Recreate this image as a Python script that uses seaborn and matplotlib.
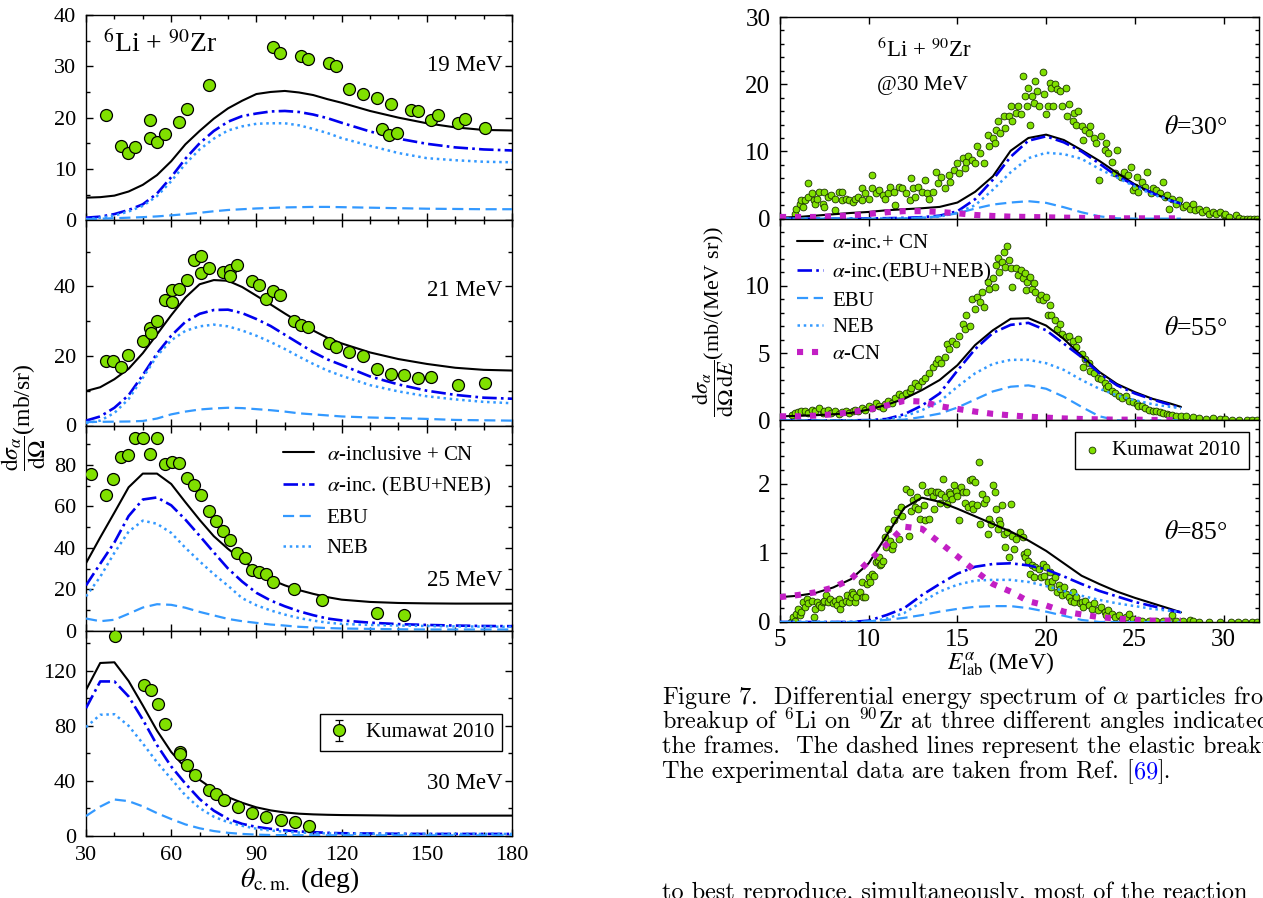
import matplotlib
matplotlib.use("Agg")
import matplotlib.pyplot as plt
import seaborn as sns
from matplotlib.ticker import MultipleLocator, FixedLocator

# ---------------- data: left panel, angular distributions ----------------
theta = [30, 35, 40, 45, 50, 55, 60, 65, 70, 75, 80, 85, 90, 95, 100,
         105, 110, 115, 120, 130, 140, 150, 160, 170, 180]

tot19 = [4.4, 4.5, 4.8, 5.6, 6.9, 8.8, 11.5, 14.8, 17.4, 19.8, 21.8, 23.3, 24.6, 25.0, 25.2,
         24.9, 24.4, 23.6, 22.9, 21.3, 20.0, 18.9, 18.1, 17.6, 17.5]
inc19 = [0.5, 0.7, 1.2, 2.0, 3.1, 5.2, 8.4, 12.0, 15.0, 17.4, 19.2, 20.3, 20.8, 21.2, 21.3,
         21.1, 20.6, 19.9, 19.0, 17.3, 15.9, 14.9, 14.2, 13.8, 13.6]
neb19 = [0.2, 0.5, 0.9, 1.7, 2.8, 4.7, 7.6, 11.0, 13.8, 15.9, 17.5, 18.3, 18.8, 18.9, 18.9,
         18.5, 17.8, 17.0, 16.0, 14.5, 13.1, 12.1, 11.7, 11.4, 11.3]
ebu19 = [0.2, 0.3, 0.4, 0.5, 0.6, 0.75, 0.95, 1.2, 1.45, 1.75, 2.0, 2.15, 2.3, 2.4, 2.5,
         2.55, 2.6, 2.6, 2.55, 2.45, 2.35, 2.25, 2.2, 2.15, 2.15]

tot21 = [9.9, 11.0, 13.3, 16.3, 20.8, 26.2, 31.7, 36.8, 40.6, 41.8, 41.6, 39.8, 37.3, 34.8, 32.2,
         29.7, 27.3, 25.2, 23.6, 21.0, 19.1, 17.7, 16.6, 16.0, 15.8]
inc21 = [1.4, 2.6, 5.1, 8.7, 14.5, 20.7, 25.8, 29.8, 32.1, 33.2, 33.3, 32.3, 30.6, 28.6, 26.1,
         23.6, 21.1, 19.0, 17.4, 14.1, 11.8, 10.0, 8.8, 8.0, 7.7]
neb21 = [0.7, 1.4, 3.6, 7.6, 13.7, 20.0, 24.5, 27.2, 28.5, 29.0, 28.5, 27.3, 25.8, 24.0, 22.0,
         19.8, 17.7, 15.8, 14.3, 11.6, 9.8, 8.4, 7.5, 6.8, 6.4]
ebu21 = [1.0, 1.05, 1.1, 1.15, 1.3, 2.0, 3.2, 4.0, 4.6, 4.9, 5.1, 5.0, 4.7, 4.4, 4.0,
         3.5, 3.2, 2.9, 2.6, 2.3, 2.1, 1.9, 1.6, 1.5, 1.4]

tot25 = [32.6, 45.0, 57.0, 69.2, 75.8, 75.8, 70.8, 62.0, 53.5, 45.6, 39.5, 34.0, 29.0, 24.7, 21.9,
         19.6, 17.8, 16.2, 15.0, 13.9, 13.4, 13.2, 13.1, 13.1, 13.1]
inc25 = [21.9, 32.3, 42.6, 55.3, 63.3, 64.3, 60.5, 53.6, 45.8, 37.8, 30.0, 23.7, 18.3, 14.6, 11.8,
         9.4, 7.5, 5.9, 5.0, 3.9, 3.2, 2.8, 2.5, 2.3, 2.2]
neb25 = [16.6, 26.0, 37.6, 47.8, 53.1, 51.6, 47.2, 40.0, 33.5, 27.3, 21.7, 15.7, 12.3, 9.8, 7.8,
         6.1, 4.9, 3.9, 3.3, 2.8, 2.5, 2.3, 2.1, 2.0, 1.9]
ebu25 = [5.9, 4.6, 5.3, 8.2, 11.2, 12.8, 12.5, 11.1, 9.1, 7.4, 5.7, 4.6, 3.8, 3.0, 2.5,
         1.9, 1.6, 1.3, 1.1, 0.9, 0.7, 0.6, 0.6, 0.6, 0.6]

tot30 = [106.0, 125.6, 126.1, 112.5, 94.8, 76.5, 61.0, 49.5, 40.8, 33.6, 28.2, 24.1, 20.8, 18.6, 17.1,
         16.2, 15.7, 15.4, 15.2, 15.0, 14.8, 14.8, 14.8, 14.8, 14.8]
inc30 = [92.8, 112.2, 112.2, 101.3, 84.5, 66.0, 50.5, 38.0, 26.8, 18.4, 12.4, 8.8, 6.6, 5.2, 4.1,
         3.3, 2.8, 2.3, 2.0, 1.8, 1.6, 1.5, 1.5, 1.5, 1.5]
neb30 = [79.0, 88.0, 88.4, 80.0, 67.2, 53.5, 41.5, 29.5, 20.3, 14.0, 10.0, 7.4, 5.3, 4.0, 3.1,
         2.5, 2.1, 1.9, 1.7, 1.6, 1.5, 1.5, 1.5, 1.5, 1.5]
ebu30 = [14.5, 21.3, 26.5, 25.3, 21.5, 16.6, 12.3, 8.4, 5.6, 3.6, 2.3, 1.5, 1.0, 0.7, 0.6,
         0.55, 0.5, 0.5, 0.5, 0.5, 0.5, 0.5, 0.5, 0.5, 0.5]

# Kumawat 2010 angular data (theta_cm, mb/sr)
kum19 = [(37.0, 20.6), (42.2, 14.4), (44.8, 13.2), (47.4, 14.2), (52.5, 19.6), (52.5, 16.0),
         (55.1, 15.3), (57.7, 16.8), (62.9, 19.1), (65.6, 21.7), (73.3, 26.3), (95.8, 33.7),
         (98.3, 32.5), (105.7, 32.0), (108.3, 31.5), (115.6, 30.7), (118.0, 30.1), (122.7, 25.6),
         (127.7, 24.7), (132.6, 23.9), (137.4, 22.6), (134.2, 17.7), (136.6, 16.6), (139.4, 17.1),
         (144.4, 21.5), (146.9, 21.3), (151.6, 19.6), (154.0, 20.6), (161.1, 18.9), (163.6, 19.8),
         (170.5, 17.9)]
kum21 = [(37.0, 18.6), (39.6, 18.5), (42.2, 16.7), (44.8, 20.4), (50.0, 24.4), (52.5, 28.0),
         (52.8, 26.5), (55.1, 30.0), (57.7, 36.1), (60.3, 38.9), (60.3, 35.4), (62.9, 39.2),
         (65.6, 41.9), (68.1, 47.6), (70.6, 48.7), (70.6, 43.8), (73.3, 45.3), (78.1, 44.0),
         (80.7, 44.7), (80.7, 43.1), (83.3, 46.2), (88.5, 41.6), (90.9, 40.3), (93.4, 36.3),
         (95.8, 38.6), (98.3, 37.6), (103.2, 30.0), (105.8, 29.0), (108.3, 28.2), (115.6, 23.7),
         (118.0, 22.7), (122.7, 21.1), (127.7, 20.0), (132.6, 16.3), (137.4, 14.8), (142.1, 14.6),
         (146.8, 13.7), (151.6, 13.9), (161.1, 11.7), (170.5, 12.2)]
kum25 = [(31.6, 75.8), (37.0, 65.6), (39.6, 73.1), (42.2, 83.8), (44.8, 84.6), (47.4, 92.8),
         (50.0, 92.8), (52.5, 85.1), (55.1, 92.8), (57.7, 80.6), (60.3, 81.6), (62.9, 81.1),
         (65.6, 73.6), (68.1, 70.2), (70.6, 65.6), (73.3, 57.9), (75.8, 52.8), (78.4, 48.3),
         (80.7, 43.8), (83.3, 37.4), (85.9, 35.2), (88.5, 29.4), (90.9, 28.3), (93.4, 27.5),
         (95.8, 23.5), (103.2, 20.0), (113.1, 15.0), (132.6, 8.6), (142.1, 7.5)]
kum30 = [(40.2, 145.5), (50.5, 109.8), (52.8, 106.2), (55.4, 95.5), (57.9, 81.0), (63.1, 61.1),
         (63.1, 59.6), (65.7, 51.9), (68.3, 44.1), (73.3, 33.2), (75.9, 30.5), (78.5, 26.2),
         (83.4, 20.8), (88.6, 16.5), (93.5, 13.6), (98.5, 11.6), (103.5, 10.2), (108.4, 7.3)]

# ---------------- data: right panel, energy spectra at 30 MeV ----------------
e_lab = [5, 6, 7, 8, 9, 10, 11, 12, 13, 14, 15, 16, 17, 18, 19, 20, 21, 22, 23, 24, 25, 26, 27, 27.6]

tot_a30 = [0.15, 0.25, 0.45, 0.65, 0.85, 1.0, 1.25, 1.4, 1.55, 1.75, 2.4, 4.0, 6.3, 10.1, 12.0, 12.5,
           11.7, 10.2, 8.6, 6.8, 5.1, 3.8, 2.8, 2.25]
inc_a30 = [0, 0, 0, 0, 0.02, 0.04, 0.07, 0.12, 0.22, 0.45, 1.1, 2.9, 5.8, 9.2, 11.6, 12.25,
           11.35, 10.0, 8.2, 6.3, 5.0, 3.8, 2.7, 2.25]
neb_a30 = [0, 0, 0, 0, 0, 0, 0, 0, 0.12, 0.3, 0.9, 2.0, 4.3, 6.9, 9.0, 9.8,
           9.6, 8.9, 7.4, 6.1, 4.8, 3.6, 2.7, 2.25]
ebu_a30 = [0, 0, 0, 0, 0, 0, 0, 0.05, 0.15, 0.35, 0.8, 1.5, 2.1, 2.4, 2.6, 2.35,
           1.7, 0.95, 0.35, 0.05, 0, 0, 0, 0]
cn_a30 = [0.25, 0.25, 0.25, 0.35, 0.5, 0.7, 0.95, 1.12, 1.12, 1.0, 0.8, 0.55, 0.4, 0.3, 0.25, 0.2,
          0.15, 0.12, 0.1, 0.05, 0.05, 0.05, 0.05, 0.05]

tot_a55 = [0.3, 0.33, 0.38, 0.45, 0.55, 0.8, 1.15, 1.6, 2.25, 3.0, 4.1, 5.6, 6.7, 7.55, 7.6, 7.05,
           6.05, 4.8, 3.6, 2.7, 2.1, 1.6, 1.25, 1.0]
inc_a55 = [0, 0, 0, 0, 0, 0.02, 0.1, 0.45, 1.1, 2.0, 3.7, 5.3, 6.5, 7.1, 7.25, 6.7,
           5.7, 4.7, 3.5, 2.6, 2.0, 1.55, 1.15, 0.9]
neb_a55 = [0, 0, 0, 0, 0, 0, 0.05, 0.3, 0.75, 1.4, 2.5, 3.5, 4.2, 4.5, 4.5, 4.25,
           3.75, 3.0, 2.35, 1.85, 1.5, 1.2, 1.0, 0.9]
ebu_a55 = [0, 0, 0, 0, 0, 0, 0, 0.05, 0.25, 0.5, 0.95, 1.55, 2.15, 2.5, 2.6, 2.35,
           1.75, 1.0, 0.3, 0, 0, 0, 0, 0]
cn_a55 = [0.3, 0.3, 0.35, 0.45, 0.6, 0.8, 1.1, 1.45, 1.4, 1.05, 0.85, 0.65, 0.48, 0.37, 0.27, 0.2,
          0.14, 0.1, 0.07, 0.05, 0.05, 0.03, 0.03, 0.03]

tot_a85 = [0.36, 0.38, 0.42, 0.5, 0.62, 0.85, 1.25, 1.65, 1.8, 1.74, 1.64, 1.53, 1.42, 1.31, 1.18, 1.03,
           0.85, 0.67, 0.55, 0.44, 0.35, 0.27, 0.19, 0.14]
inc_a85 = [0, 0, 0, 0, 0, 0.02, 0.1, 0.2, 0.39, 0.55, 0.7, 0.8, 0.84, 0.85, 0.82, 0.76,
           0.66, 0.55, 0.45, 0.37, 0.29, 0.23, 0.17, 0.14]
neb_a85 = [0, 0, 0, 0, 0, 0, 0.05, 0.13, 0.29, 0.44, 0.54, 0.6, 0.61, 0.61, 0.58, 0.52,
           0.45, 0.38, 0.32, 0.27, 0.23, 0.19, 0.16, 0.14]
ebu_a85 = [0, 0, 0, 0, 0, 0.01, 0.03, 0.06, 0.1, 0.15, 0.19, 0.22, 0.23, 0.23, 0.2, 0.15,
           0.09, 0.03, 0, 0, 0, 0, 0, 0]
cn_a85 = [0.36, 0.39, 0.43, 0.5, 0.62, 0.88, 1.12, 1.38, 1.35, 1.15, 0.95, 0.74, 0.55, 0.44, 0.3, 0.24,
          0.15, 0.11, 0.07, 0.05, 0.03, 0.02, 0.02, 0.02]

# Kumawat 2010 energy spectra (E_lab MeV, mb/(MeV sr))
spec30 = [(5.85, 0.75), (5.9, 1.5), (6.1, 2.25), (6.2, 2.75), (6.3, 1.75), (6.4, 2.75), (6.6, 5.25),
          (6.6, 3.25), (6.8, 3.75), (6.9, 2.75), (7.0, 2.25), (7.1, 3.0), (7.2, 4.0), (7.4, 2.25),
          (7.5, 4.0), (7.5, 1.75), (7.7, 3.25), (7.9, 3.5), (8.1, 3.0), (8.1, 1.25), (8.3, 4.0),
          (8.5, 4.0), (8.5, 2.75), (8.7, 3.0), (8.9, 2.75), (9.1, 2.5), (9.2, 3.0), (9.4, 3.25),
          (9.6, 4.5), (9.6, 2.75), (9.8, 3.75), (10.0, 3.0), (10.2, 6.5), (10.2, 4.5), (10.4, 3.75),
          (10.6, 4.25), (10.8, 3.5), (10.9, 3.0), (11.1, 3.75), (11.2, 4.75), (11.4, 4.0), (11.5, 2.0),
          (11.7, 4.75), (11.9, 4.5), (12.1, 3.75), (12.3, 2.75), (12.4, 6.0), (12.5, 4.5), (12.6, 3.25),
          (12.8, 4.75), (13.0, 4.0), (13.2, 5.75), (13.3, 3.75), (13.4, 3.0), (13.6, 4.0), (13.8, 7.0),
          (13.9, 5.25), (14.1, 6.25), (14.3, 4.5), (14.5, 6.5), (14.6, 5.5), (14.8, 7.25), (15.0, 8.25),
          (15.1, 6.75), (15.3, 9.0), (15.4, 7.5), (15.5, 8.5), (15.6, 9.25), (15.8, 8.75), (16.0, 8.25),
          (16.1, 10.75), (16.3, 9.75), (16.5, 8.25), (16.7, 12.5), (16.8, 10.75), (17.0, 12.0),
          (17.1, 11.25), (17.2, 13.25), (17.3, 14.5), (17.4, 12.75), (17.6, 15.25), (17.7, 13.5),
          (17.9, 15.25), (18.0, 16.75), (18.1, 14.5), (18.3, 15.75), (18.4, 16.75), (18.6, 15.5),
          (18.7, 21.25), (18.8, 18.25), (18.9, 16.75), (19.0, 19.5), (19.1, 14.0), (19.2, 18.25),
          (19.3, 17.25), (19.4, 20.5), (19.5, 19.0), (19.6, 16.75), (19.8, 21.75), (19.9, 18.5),
          (20.0, 15.5), (20.1, 16.75), (20.2, 20.25), (20.3, 19.5), (20.4, 16.75), (20.5, 20.0),
          (20.6, 19.25), (20.8, 19.0), (20.9, 16.75), (21.1, 19.5), (21.2, 15.25), (21.3, 17.0),
          (21.5, 14.5), (21.6, 15.75), (21.7, 14.0), (21.8, 16.0), (22.0, 13.75), (22.1, 11.75),
          (22.2, 13.25), (22.4, 12.75), (22.5, 13.75), (22.7, 12.0), (22.8, 11.25), (23.0, 5.75),
          (23.1, 12.25), (23.3, 10.25), (23.4, 11.25), (23.5, 9.75), (23.7, 8.5), (23.9, 6.75),
          (24.0, 10.25), (24.2, 6.25), (24.4, 7.0), (24.6, 6.5), (24.8, 7.75), (24.9, 4.25),
          (25.0, 4.75), (25.1, 6.25), (25.2, 4.0), (25.4, 5.5), (25.6, 4.75), (25.7, 7.0), (25.9, 3.75),
          (26.0, 4.5), (26.2, 4.25), (26.4, 3.75), (26.6, 5.5), (26.7, 3.25), (26.8, 3.5), (26.9, 1.5),
          (27.1, 3.0), (27.3, 2.25), (27.5, 2.75), (27.7, 1.75), (27.9, 2.0), (28.1, 1.5), (28.3, 2.25),
          (28.4, 1.25), (28.6, 1.5), (28.8, 1.0), (29.0, 1.25), (29.2, 0.75), (29.4, 1.0), (29.6, 0.75),
          (29.8, 1.0), (30.0, 0.5), (30.1, 0.75), (30.3, 0.25), (30.7, 0.5), (30.9, 0.15), (31.1, 0.0),
          (31.3, 0.0), (31.5, 0.0), (31.7, 0.0), (31.9, 0.0)]
spec55 = [(5.66, 0.43), (5.85, 0.55), (6.0, 0.6), (6.2, 0.68), (6.4, 0.73), (6.6, 0.55), (6.8, 0.75),
          (7.0, 0.68), (7.2, 0.93), (7.4, 0.55), (7.5, 0.68), (7.7, 0.8), (7.9, 0.55), (8.1, 0.68),
          (8.3, 0.5), (8.5, 0.6), (8.7, 0.73), (8.9, 0.55), (9.1, 0.68), (9.2, 0.8), (9.4, 0.68),
          (9.6, 0.93), (9.8, 0.8), (10.0, 1.05), (10.2, 0.93), (10.4, 1.3), (10.6, 1.1), (10.8, 0.93),
          (10.9, 1.25), (11.1, 1.43), (11.3, 1.3), (11.5, 1.68), (11.7, 1.93), (11.9, 1.8), (12.1, 2.05),
          (12.3, 2.18), (12.4, 2.43), (12.6, 2.8), (12.8, 2.55), (13.0, 2.93), (13.2, 3.18), (13.4, 3.55),
          (13.6, 3.93), (13.8, 4.3), (13.9, 4.55), (14.1, 4.3), (14.3, 4.68), (14.4, 5.68), (14.5, 5.3),
          (14.7, 5.93), (14.9, 5.68), (15.1, 6.3), (15.3, 7.18), (15.4, 6.8), (15.5, 7.8), (15.7, 7.05),
          (15.8, 9.05), (16.0, 8.3), (16.1, 9.18), (16.3, 8.8), (16.4, 9.55), (16.5, 8.43), (16.7, 10.3),
          (16.8, 9.8), (17.0, 10.55), (17.1, 9.93), (17.2, 11.55), (17.3, 12.05), (17.35, 11.05),
          (17.5, 11.8), (17.6, 12.55), (17.7, 11.43), (17.8, 12.93), (17.9, 11.93), (18.0, 11.3),
          (18.1, 9.93), (18.3, 11.3), (18.4, 10.8), (18.6, 11.18), (18.7, 10.55), (18.8, 10.93),
          (18.85, 9.68), (18.9, 10.3), (19.1, 10.68), (19.2, 9.8), (19.3, 10.18), (19.4, 9.55),
          (19.6, 9.05), (19.7, 9.3), (19.8, 8.93), (20.0, 9.18), (20.1, 7.8), (20.2, 8.55), (20.3, 7.8),
          (20.5, 7.43), (20.6, 6.8), (20.8, 7.18), (20.9, 6.43), (21.1, 6.18), (21.3, 6.3), (21.5, 5.93),
          (21.7, 5.43), (21.8, 6.05), (22.0, 4.93), (22.1, 3.93), (22.2, 4.55), (22.4, 4.3), (22.5, 3.68),
          (22.7, 3.55), (22.9, 3.18), (23.1, 3.05), (23.3, 2.8), (23.4, 2.43), (23.5, 2.55), (23.7, 2.18),
          (23.9, 2.05), (24.1, 1.8), (24.3, 1.68), (24.5, 1.8), (24.7, 1.43), (24.9, 1.35), (25.1, 1.18),
          (25.2, 1.1), (25.4, 1.05), (25.6, 0.93), (25.8, 0.8), (26.0, 0.73), (26.2, 0.68), (26.4, 0.6),
          (26.6, 0.55), (26.8, 0.5), (26.9, 0.43), (27.1, 0.38), (27.3, 0.3), (27.6, 0.35), (27.9, 0.3),
          (28.3, 0.23), (28.6, 0.18), (29.0, 0.13), (29.4, 0.15), (29.8, 0.1), (30.1, 0.08), (30.5, 0.05),
          (30.9, 0.05), (31.3, 0.03), (31.6, 0.03), (31.9, 0.0)]
spec85 = [(5.6, 0.0), (5.75, 0.07), (5.85, 0.02), (5.9, 0.12), (6.0, 0.19), (6.1, 0.1), (6.2, 0.14),
          (6.3, 0.29), (6.4, 0.22), (6.5, 0.34), (6.6, 0.27), (6.8, 0.31), (6.9, 0.07), (7.0, 0.19),
          (7.1, 0.29), (7.2, 0.24), (7.3, 0.22), (7.4, 0.29), (7.5, 0.31), (7.6, 0.39), (7.7, 0.29),
          (7.8, 0.34), (8.0, 0.27), (8.1, 0.31), (8.2, 0.24), (8.3, 0.34), (8.4, 0.19), (8.5, 0.27),
          (8.7, 0.31), (8.8, 0.39), (8.9, 0.29), (9.0, 0.36), (9.05, 0.43), (9.1, 0.41), (9.2, 0.29),
          (9.3, 0.36), (9.5, 0.43), (9.6, 0.58), (9.7, 0.36), (9.8, 0.36), (9.9, 0.55), (10.0, 0.65),
          (10.1, 0.58), (10.2, 0.7), (10.3, 0.67), (10.4, 0.87), (10.5, 0.89), (10.6, 0.94), (10.65, 0.82),
          (10.7, 0.84), (10.8, 0.89), (10.9, 1.23), (11.0, 1.08), (11.1, 1.35), (11.2, 1.18), (11.3, 1.06),
          (11.35, 1.11), (11.4, 1.47), (11.6, 1.59), (11.7, 1.2), (11.8, 1.66), (11.9, 1.54), (12.1, 1.93),
          (12.25, 1.25), (12.3, 1.88), (12.4, 1.61), (12.5, 1.76), (12.6, 1.66), (12.7, 1.81), (12.8, 1.64),
          (12.9, 1.49), (13.0, 1.98), (13.1, 1.69), (13.2, 1.47), (13.3, 1.88), (13.4, 1.49), (13.5, 1.9),
          (13.6, 1.83), (13.7, 1.64), (13.8, 1.88), (13.9, 1.88), (14.0, 1.73), (14.1, 1.86), (14.2, 2.07),
          (14.3, 1.81), (14.4, 1.71), (14.5, 1.88), (14.6, 1.86), (14.7, 1.78), (14.8, 1.98), (14.9, 1.9),
          (15.0, 1.83), (15.1, 1.47), (15.2, 1.95), (15.3, 1.88), (15.4, 1.73), (15.5, 1.88), (15.6, 1.66),
          (15.7, 2.05), (15.8, 1.71), (15.85, 2.07), (15.9, 1.64), (16.0, 2.02), (16.1, 1.69), (16.2, 2.31),
          (16.3, 1.42), (16.4, 1.86), (16.5, 1.73), (16.6, 1.78), (16.7, 1.28), (16.8, 1.49), (16.9, 1.42),
          (17.0, 1.98), (17.1, 1.88), (17.2, 1.64), (17.3, 1.35), (17.35, 1.47), (17.4, 1.42), (17.5, 1.69),
          (17.6, 1.28), (17.7, 1.08), (17.8, 1.3), (17.9, 0.94), (18.0, 1.71), (18.1, 1.25), (18.2, 1.06),
          (18.3, 1.2), (18.5, 1.3), (18.7, 1.23), (18.75, 0.99), (18.8, 0.94), (18.9, 1.01), (19.0, 0.89),
          (19.1, 0.7), (19.2, 0.82), (19.3, 0.65), (19.4, 0.8), (19.6, 0.77), (19.7, 0.65), (19.8, 0.84),
          (19.9, 0.67), (20.0, 0.8), (20.1, 0.58), (20.2, 0.72), (20.3, 0.51), (20.35, 0.6), (20.5, 0.65),
          (20.6, 0.43), (20.7, 0.53), (20.8, 0.48), (20.9, 0.39), (21.0, 0.51), (21.1, 0.41), (21.3, 0.36),
          (21.4, 0.31), (21.5, 0.43), (21.6, 0.29), (21.7, 0.36), (21.9, 0.27), (22.0, 0.29), (22.1, 0.22),
          (22.2, 0.31), (22.4, 0.24), (22.6, 0.19), (22.7, 0.27), (22.9, 0.17), (23.1, 0.22), (23.3, 0.14),
          (23.4, 0.1), (23.5, 0.17), (23.7, 0.12), (23.9, 0.07), (24.1, 0.1), (24.3, 0.05), (24.5, 0.07),
          (24.7, 0.12), (24.9, 0.05), (25.1, 0.02), (25.2, 0.03), (25.4, 0.02), (25.8, 0.02), (26.2, 0.01),
          (26.6, 0.02), (26.9, 0.01), (27.1, 0.1), (27.3, 0.01), (27.7, 0.01), (28.1, 0.03), (28.3, 0.02),
          (28.6, 0.0), (29.2, 0.0), (29.8, 0.0), (30.4, 0.0), (30.8, 0.0), (31.2, 0.0), (31.6, 0.0),
          (31.9, 0.0)]

# ---------------- style ----------------
sns.set_style("ticks")
plt.rcParams["font.family"] = ["Liberation Serif", "DejaVu Serif"]
plt.rcParams["mathtext.fontset"] = "stix"
plt.rcParams["axes.edgecolor"] = "black"
plt.rcParams["text.color"] = "black"
plt.rcParams["xtick.color"] = "black"
plt.rcParams["ytick.color"] = "black"

green = "#80E000"
blue = "#0000EE"
lblue = "#3399FF"
magenta = "#C21FC4"

STYLES = {
    "tot": dict(color="black", linewidth=1.5, linestyle="-"),
    "inc": dict(color=blue, linewidth=1.9, linestyle=(0, (5.5, 1.6, 1.0, 1.6))),
    "ebu": dict(color=lblue, linewidth=1.6, linestyle=(0, (5.0, 2.5))),
    "neb": dict(color=lblue, linewidth=1.8, linestyle=(0, (1.0, 1.5))),
    "cn": dict(color=magenta, linewidth=4.4, linestyle=(0, (1.0, 1.45))),
}

W, H = 1263, 898
fig = plt.figure(figsize=(W / 100, H / 100), dpi=100)


def px_axes(x0, y0, x1, y1):
    return fig.add_axes([x0 / W, 1 - y1 / H, (x1 - x0) / W, (y1 - y0) / H])


def draw_curves(ax, x, ys, keys, labels=None, z=3):
    for i, (y, k) in enumerate(zip(ys, keys)):
        kw = dict(STYLES[k])
        if labels:
            kw["label"] = labels[i]
        sns.lineplot(x=x, y=y, ax=ax, sort=False, estimator=None, zorder=z,
                     dash_capstyle="butt", **kw)


def frame(ax, size):
    ax.tick_params(which="both", direction="in", top=True, right=True, width=1.0,
                   labelsize=size, pad=7, colors="black")
    ax.tick_params(which="major", length=5)
    ax.tick_params(which="minor", length=3)
    for s in ax.spines.values():
        s.set_linewidth(1.0)
        s.set_color("black")
    ax.set_xlabel("")
    ax.set_ylabel("")


# ---------------- left column ----------------
left_sets = [
    (tot19, inc19, ebu19, neb19, kum19, 40, 10, 5, "19 MeV", 0.756),
    (tot21, inc21, ebu21, neb21, kum21, 59, 20, 10, "21 MeV", 0.659),
    (tot25, inc25, ebu25, neb25, kum25, 99, 20, 10, "25 MeV", 0.244),
    (tot30, inc30, ebu30, neb30, kum30, 149, 40, 20, "30 MeV", 0.257),
]
lh = (836 - 15) / 4
left_axes = []
for i, (tt, ii, ee, nn, dd, ymax, ymaj, ymin, lab, ly) in enumerate(left_sets):
    ax = px_axes(86, 15 + i * lh, 512, 15 + (i + 1) * lh)
    labels = None
    if i == 2:
        labels = [r"$\alpha$-inclusive + CN", r"$\alpha$-inc. (EBU+NEB)", "EBU", "NEB"]
    draw_curves(ax, theta, [tt, ii, ee, nn], ["tot", "inc", "ebu", "neb"], labels)
    dx = [p[0] for p in dd]
    dy = [p[1] for p in dd]
    if i == 3:
        ax.errorbar(dx, dy, yerr=0, fmt="o", ms=8.6, mfc=green, mec="black", mew=0.9,
                    ecolor="black", elinewidth=0.9, capsize=3, zorder=6, label="Kumawat 2010")
    else:
        sns.scatterplot(x=dx, y=dy, ax=ax, s=74, color=green, edgecolor="black",
                        linewidth=0.9, zorder=6)
    ax.set_xlim(30, 180)
    ax.set_ylim(0, ymax)
    ax.xaxis.set_major_locator(MultipleLocator(30))
    ax.xaxis.set_minor_locator(MultipleLocator(10))
    ax.yaxis.set_major_locator(MultipleLocator(ymaj))
    ax.yaxis.set_minor_locator(MultipleLocator(ymin))
    frame(ax, 16)
    ax.tick_params(axis="x", labelbottom=(i == 3))
    ax.text(0.977, ly, lab, transform=ax.transAxes, ha="right", va="center", fontsize=16.5)
    if ax.get_legend():
        ax.get_legend().remove()
    left_axes.append(ax)

left_axes[0].text(0.04, 0.86, r"$^{6}$Li + $^{90}$Zr", transform=left_axes[0].transAxes,
                  ha="left", va="center", fontsize=20)
leg = left_axes[2].legend(loc="upper left", bbox_to_anchor=(0.462, 0.905), frameon=False,
                          fontsize=15, handlelength=1.5, handletextpad=0.6, labelspacing=0.5,
                          borderaxespad=0, borderpad=0)
leg = left_axes[3].legend(loc="upper right", bbox_to_anchor=(0.977, 0.592), frameon=True,
                          fancybox=False, edgecolor="black", framealpha=1, fontsize=15,
                          handlelength=1.0, handletextpad=0.8, borderpad=0.4, borderaxespad=0)
leg.get_frame().set_linewidth(1.0)

fig.text(300 / W, 1 - 880 / H, r"$\theta_{\rm c.m.}$ (deg)", ha="center", va="center", fontsize=20)
fig.text(24 / W, 1 - 417 / H, r"$\dfrac{\mathrm{d}\sigma_\alpha}{\mathrm{d}\Omega}$(mb/sr)",
         rotation=90, ha="center", va="center", fontsize=17)

# ---------------- right column ----------------
right_sets = [
    (tot_a30, inc_a30, ebu_a30, neb_a30, cn_a30, spec30, 30, [0, 10, 20, 30], 2, r"$\theta$=30°", 0.453),
    (tot_a55, inc_a55, ebu_a55, neb_a55, cn_a55, spec55, 15, [0, 5, 10], 1, r"$\theta$=55°", 0.455),
    (tot_a85, inc_a85, ebu_a85, neb_a85, cn_a85, spec85, 2.92, [0, 1, 2], 0.2, r"$\theta$=85°", 0.446),
]
rh = (622 - 17) / 3
right_axes = []
for i, (tt, ii, ee, nn, cc, dd, ymax, yt, ymin, lab, ly) in enumerate(right_sets):
    ax = px_axes(780, 17 + i * rh, 1259, 17 + (i + 1) * rh)
    dx = [p[0] for p in dd]
    dy = [p[1] for p in dd]
    sns.scatterplot(x=dx, y=dy, ax=ax, s=24, color=green, edgecolor="#1a3300",
                    linewidth=0.6, zorder=2, label="Kumawat 2010" if i == 2 else None)
    labels = None
    if i == 1:
        labels = [r"$\alpha$-inc.+ CN", r"$\alpha$-inc.(EBU+NEB)", "EBU", "NEB", r"$\alpha$-CN"]
    draw_curves(ax, e_lab, [tt, ii, ee, nn, cc], ["tot", "inc", "ebu", "neb", "cn"], labels, z=4)
    ax.set_xlim(5, 32)
    ax.set_ylim(0, ymax)
    ax.xaxis.set_major_locator(MultipleLocator(5))
    ax.yaxis.set_major_locator(FixedLocator(yt))
    ax.yaxis.set_minor_locator(MultipleLocator(ymin))
    frame(ax, 18)
    ax.tick_params(axis="x", labelbottom=(i == 2), pad=5)
    ax.text(0.935, ly, lab, transform=ax.transAxes, ha="right", va="center", fontsize=18.5)
    if ax.get_legend():
        ax.get_legend().remove()
    right_axes.append(ax)

right_axes[0].text(0.2025, 0.836, r"$^{6}$Li + $^{90}$Zr", transform=right_axes[0].transAxes,
                   ha="left", va="center", fontsize=16.5)
right_axes[0].text(0.2025, 0.662, "@30 MeV", transform=right_axes[0].transAxes,
                   ha="left", va="center", fontsize=15.5)
leg = right_axes[1].legend(loc="upper left", bbox_to_anchor=(0.035, 0.925), frameon=False,
                           fontsize=15, handlelength=1.25, handletextpad=0.45, labelspacing=0.35,
                           borderaxespad=0, borderpad=0)
leg = right_axes[2].legend(loc="upper right", bbox_to_anchor=(0.979, 0.94), frameon=True,
                           fancybox=False, edgecolor="black", framealpha=1, fontsize=15,
                           handlelength=0.8, handletextpad=0.6, borderpad=0.4, borderaxespad=0)
leg.get_frame().set_linewidth(1.0)

fig.text(1000 / W, 1 - 664 / H, r"$E^{\alpha}_{\rm lab}$ (MeV)", ha="center", va="center", fontsize=17)
fig.text(713 / W, 1 - 322 / H,
         r"$\dfrac{\mathrm{d}\sigma_\alpha}{\mathrm{d}\Omega\,\mathrm{d}E}$(mb/(MeV sr))",
         rotation=90, ha="center", va="center", fontsize=16)

# ---------------- caption text ----------------
cap = dict(fontfamily="cmr10", math_fontfamily="cm", fontsize=17.5, ha="left", va="baseline")
fig.text(662 / W, 1 - 704 / H, r"Figure 7.  Differential energy spectrum of $\alpha$ particles from", **cap)
fig.text(662 / W, 1 - 729 / H, r"breakup of $^{6}$Li on $^{90}$Zr at three different angles indicated", **cap)
fig.text(662 / W, 1 - 753 / H, "the frames.  The dashed lines represent the elastic breakup", **cap)
t4 = fig.text(662 / W, 1 - 778 / H, "The experimental data are taken from Ref. [", **cap)
a69 = right_axes[2].annotate("69", xy=(1, 0), xycoords=t4, ha="left", va="bottom",
                             color="blue", fontfamily="cmr10", fontsize=17.5)
right_axes[2].annotate("].", xy=(1, 0), xycoords=a69, ha="left", va="bottom",
                       fontfamily="cmr10", fontsize=17.5)
fig.text(662 / W, 1 - 899 / H, "to best reproduce, simultaneously, most of the reaction", **cap)

fig.savefig("out.png", dpi=100)
